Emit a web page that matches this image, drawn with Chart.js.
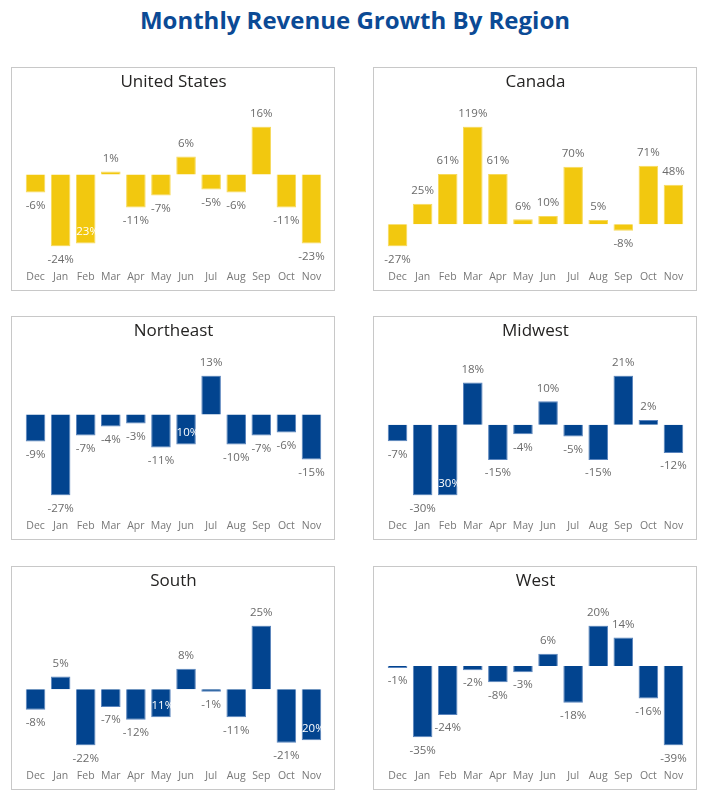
<!DOCTYPE html>
<html>
<head>
<meta charset="utf-8">
<title>Monthly Revenue Growth By Region</title>
<script src="https://cdn.jsdelivr.net/npm/chart.js@4.4.0/dist/chart.umd.min.js"></script>
<style>
	body { margin: 0; background: #fff; font-family: 'Segoe UI', 'Open Sans', sans-serif; }
	h1 { position: absolute; top: 0; left: 0; width: 710px; margin: 0; text-align: center;
		font-size: 24px; line-height: 40px; font-weight: bold; color: #0b4a95; }
	.panel { position: absolute; width: 322px; height: 222px; border: 1px solid #c8c8c8; }
	.panel canvas { display: block; }
</style>
</head>
<body>
<h1>Monthly Revenue Growth By Region</h1>
<div class="panel" style="left:11px;top:67px"><canvas id="chart-us" width="322" height="222"></canvas></div>
<div class="panel" style="left:373px;top:67px"><canvas id="chart-canada" width="322" height="222"></canvas></div>
<div class="panel" style="left:11px;top:316px"><canvas id="chart-northeast" width="322" height="222"></canvas></div>
<div class="panel" style="left:373px;top:316px"><canvas id="chart-midwest" width="322" height="222"></canvas></div>
<div class="panel" style="left:11px;top:566px"><canvas id="chart-south" width="322" height="222"></canvas></div>
<div class="panel" style="left:373px;top:566px"><canvas id="chart-west" width="322" height="222"></canvas></div>

<script>
var months = ["Dec", "Jan", "Feb", "Mar", "Apr", "May", "Jun", "Jul", "Aug", "Sep", "Oct", "Nov"];

// monthly growth, percent
var usGrowth = [-6, -24, -23, 1, -11, -7, 6, -5, -6, 16, -11, -23];
var canadaGrowth = [-27, 25, 61, 119, 61, 6, 10, 70, 5, -8, 71, 48];
var northeastGrowth = [-9, -27, -7, -4, -3, -11, -10, 13, -10, -7, -6, -15];
var midwestGrowth = [-7, -30, -30, 18, -15, -4, 10, -5, -15, 21, 2, -12];
var southGrowth = [-8, 5, -22, -7, -12, -11, 8, -1, -11, 25, -21, -20];
var westGrowth = [-1, -35, -24, -2, -8, -3, 6, -18, 20, 14, -16, -39];

var fontFamily = "'Segoe UI', 'Open Sans', sans-serif";
var yellow = '#f2c80f';
var yellowEdge = '#f7da5c';
var blue = '#02448f';
var blueEdge = '#5a84bd';

// value labels: outside the bar end, moved inside (white) when they would hit the previous label
var barLabels = {
	id: 'barLabels',
	afterDatasetsDraw: function(chart) {
		var ctx = chart.ctx;
		var meta = chart.getDatasetMeta(0);
		var values = chart.data.datasets[0].data;
		var prev = null;

		ctx.save();
		ctx.font = '11.5px ' + fontFamily;
		ctx.textAlign = 'center';
		ctx.textBaseline = 'middle';

		meta.data.forEach(function(bar, i) {
			var v = values[i];
			var text = v + '%';
			var w = ctx.measureText(text).width;
			var up = v >= 0;
			var y = up ? bar.y - 13 : bar.y + 13;
			var box = { l: bar.x - w / 2, r: bar.x + w / 2, t: y - 6, b: y + 6 };
			var hit = prev && box.l < prev.r && box.t < prev.b && box.b > prev.t;

			if (hit) {
				ctx.fillStyle = '#ffffff';
				ctx.fillText(text, bar.x, up ? bar.y + 12 : bar.y - 12);
				prev = null;
			} else {
				ctx.fillStyle = '#6b6b6b';
				ctx.fillText(text, bar.x, y);
				prev = box;
			}
		});
		ctx.restore();
	}
};

function createChart(id, title, values, color, edge) {
	var ctx = document.getElementById(id).getContext('2d');
	return new Chart(ctx, {
		type: 'bar',
		data: {
			labels: months,
			datasets: [{
				data: values,
				backgroundColor: color,
				borderColor: edge,
				borderWidth: 1,
				categoryPercentage: 1,
				barPercentage: 0.78
			}]
		},
		options: {
			responsive: false,
			animation: false,
			layout: { padding: { left: 11, right: 10, top: 0, bottom: 4 } },
			plugins: {
				legend: { display: false },
				tooltip: { enabled: false },
				title: {
					display: true,
					text: title,
					color: '#252423',
					font: { family: fontFamily, size: 17, weight: 'normal' },
					padding: { top: 4, bottom: 34 }
				}
			},
			scales: {
				x: {
					grid: { display: false, drawTicks: true, tickLength: 21 },
					border: { display: false },
					ticks: {
						color: '#777777',
						font: { family: fontFamily, size: 10.5 },
						padding: 3,
						maxRotation: 0,
						autoSkip: false
					}
				},
				y: {
					display: false,
					min: Math.min(0, Math.min.apply(null, values)),
					max: Math.max(0, Math.max.apply(null, values))
				}
			}
		},
		plugins: [barLabels]
	});
}

createChart('chart-us', 'United States', usGrowth, yellow, yellowEdge);
createChart('chart-canada', 'Canada', canadaGrowth, yellow, yellowEdge);
createChart('chart-northeast', 'Northeast', northeastGrowth, blue, blueEdge);
createChart('chart-midwest', 'Midwest', midwestGrowth, blue, blueEdge);
createChart('chart-south', 'South', southGrowth, blue, blueEdge);
createChart('chart-west', 'West', westGrowth, blue, blueEdge);
</script>
</body>
</html>
